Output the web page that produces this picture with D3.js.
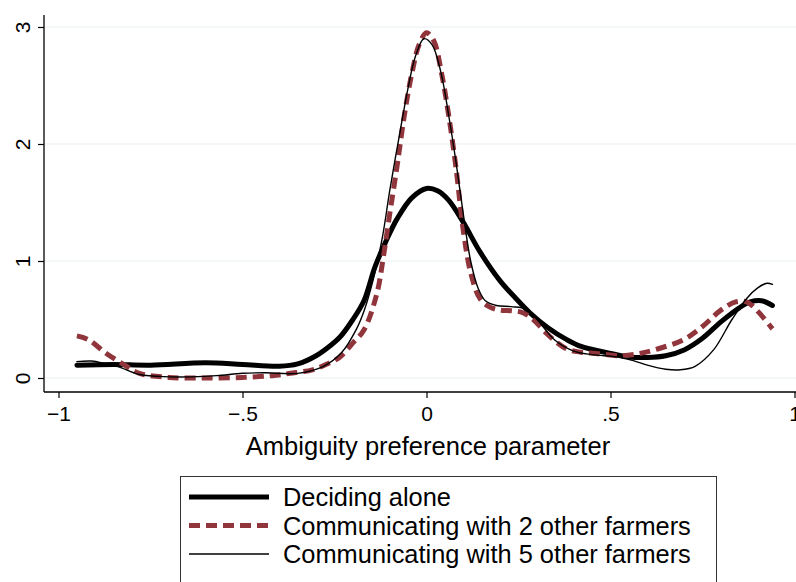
<!DOCTYPE html>
<html>
<head>
<meta charset="utf-8">
<script src="https://cdn.jsdelivr.net/npm/d3@7"></script>
<style>
  body { margin: 0; background: #fff; }
  text { font-family: "Liberation Sans", Arial, sans-serif; fill: #000; }
</style>
</head>
<body>
<div id="chart"></div>
<script>
// kernel density estimates, [x, density]
const aloneData = [[-0.95,0.11],[-0.85,0.115],[-0.75,0.11],[-0.6,0.13],[-0.5,0.115],[-0.4,0.1],[-0.35,0.12],
  [-0.3,0.19],[-0.26,0.28],[-0.235,0.35],[-0.2,0.5],[-0.17,0.66],[-0.14,0.95],[-0.11,1.17],[-0.08,1.36],
  [-0.04,1.54],[0.0,1.62],[0.03,1.6],[0.06,1.52],[0.1,1.33],[0.145,1.08],[0.2,0.83],[0.24,0.69],[0.28,0.56],
  [0.33,0.43],[0.38,0.33],[0.42,0.27],[0.5,0.21],[0.55,0.18],[0.6,0.175],[0.65,0.19],[0.7,0.24],[0.75,0.34],
  [0.8,0.48],[0.85,0.6],[0.88,0.65],[0.91,0.66],[0.94,0.62]];

const twoData = [[-0.95,0.36],[-0.92,0.33],[-0.87,0.21],[-0.82,0.11],[-0.78,0.04],[-0.7,0.005],[-0.6,0.0],
  [-0.5,0.005],[-0.42,0.02],[-0.37,0.04],[-0.31,0.07],[-0.27,0.12],[-0.235,0.18],[-0.2,0.3],[-0.17,0.41],
  [-0.135,0.72],[-0.117,1.04],[-0.1,1.4],[-0.08,1.81],[-0.06,2.25],[-0.04,2.6],[-0.02,2.85],[0.0,2.95],[0.02,2.88],
  [0.04,2.62],[0.06,2.25],[0.08,1.8],[0.1,1.26],[0.12,0.9],[0.145,0.68],[0.17,0.61],[0.2,0.58],[0.23,0.575],
  [0.26,0.56],[0.29,0.5],[0.33,0.37],[0.38,0.25],[0.42,0.22],[0.46,0.21],[0.53,0.19],[0.58,0.21],[0.63,0.25],
  [0.7,0.33],[0.75,0.44],[0.8,0.58],[0.84,0.65],[0.87,0.65],[0.9,0.57],[0.94,0.42]];

const fiveData = [[-0.95,0.14],[-0.91,0.145],[-0.87,0.12],[-0.84,0.1],[-0.78,0.03],[-0.7,0.01],[-0.64,0.01],
  [-0.57,0.02],[-0.5,0.04],[-0.44,0.045],[-0.35,0.04],[-0.28,0.10],[-0.23,0.22],[-0.19,0.42],[-0.17,0.57],
  [-0.145,0.84],[-0.12,1.2],[-0.1,1.6],[-0.075,2.05],[-0.05,2.48],[-0.03,2.75],[-0.007,2.9],[0.015,2.85],
  [0.04,2.6],[0.06,2.25],[0.08,1.85],[0.1,1.4],[0.12,1.0],[0.14,0.77],[0.16,0.66],[0.19,0.62],[0.23,0.61],
  [0.27,0.59],[0.3,0.5],[0.35,0.32],[0.4,0.23],[0.45,0.2],[0.52,0.18],[0.56,0.15],[0.6,0.11],[0.65,0.075],
  [0.69,0.07],[0.73,0.1],[0.78,0.24],[0.83,0.5],[0.87,0.68],[0.9,0.77],[0.925,0.81],[0.94,0.8]];

const xTicks = [-1, -0.5, 0, 0.5, 1];
const xTickLabels = ["\u22121", "\u2212.5", "0", ".5", "1"];
const yTicks = [0, 1, 2, 3];
const legendLabels = ["Deciding alone", "Communicating with 2 other farmers", "Communicating with 5 other farmers"];

const series = [
  {data: aloneData, color: "#000", width: 5, dash: null},
  {data: twoData, color: "#90353b", width: 5, dash: "11,6"},
  {data: fiveData, color: "#000", width: 1.4, dash: null}
];

const W = 796, H = 582;
const svg = d3.select("#chart").append("svg")
    .attr("width", W)
    .attr("height", H);

// plot region (Stata style: axes offset from data)
const plotLeft = 44, plotRight = 796, plotTop = 15, plotBottom = 392;

const xScale = d3.scaleLinear().domain([-1, 1]).range([58.5, 794.5]);
const yScale = d3.scaleLinear().domain([0, 3]).range([378, 27]);

// gridlines
svg.append("g")
    .selectAll("line")
    .data(yTicks)
    .join("line")
    .attr("x1", plotLeft + 1)
    .attr("x2", plotRight)
    .attr("y1", d => yScale(d))
    .attr("y2", d => yScale(d))
    .attr("stroke", "#e8f0f2")
    .attr("stroke-width", 1.2);

// y axis
const yAxisG = svg.append("g")
    .attr("transform", "translate(" + plotLeft + ",0)")
    .call(d3.axisLeft(yScale).tickValues(yTicks).tickSize(6).tickSizeOuter(0).tickFormat(d3.format("d")));
yAxisG.select(".domain").attr("d", "M0," + plotTop + "V" + plotBottom).attr("stroke-width", 1.3);
yAxisG.selectAll(".tick line").attr("stroke-width", 1.2);
yAxisG.selectAll(".tick text")
    .attr("x", null).attr("dy", null)
    .attr("transform", "translate(-22,0) rotate(-90)")
    .attr("text-anchor", "middle")
    .attr("dy", "0.36em")
    .style("font-size", "21px")
    .style("font-family", "'Liberation Sans', Arial, sans-serif");

// x axis
const xAxisG = svg.append("g")
    .attr("transform", "translate(0," + plotBottom + ")")
    .call(d3.axisBottom(xScale).tickValues(xTicks).tickSize(6).tickSizeOuter(0)
        .tickFormat((d, i) => xTickLabels[i]));
xAxisG.select(".domain").attr("d", "M" + plotLeft + ",0H" + plotRight).attr("stroke-width", 1.3);
xAxisG.selectAll(".tick line").attr("stroke-width", 1.2);
xAxisG.selectAll(".tick text")
    .attr("dy", null)
    .attr("y", 29)
    .style("font-size", "21px")
    .style("font-family", "'Liberation Sans', Arial, sans-serif");

svg.append("text")
    .attr("x", 428)
    .attr("y", 455)
    .attr("text-anchor", "middle")
    .style("font-size", "25.5px")
    .text("Ambiguity preference parameter");

// density curves
const line = d3.line()
    .x(d => xScale(d[0]))
    .y(d => yScale(d[1]))
    .curve(d3.curveCatmullRom.alpha(0.5));

svg.append("g")
    .selectAll("path")
    .data(series)
    .join("path")
    .attr("d", d => line(d.data))
    .attr("fill", "none")
    .attr("stroke", d => d.color)
    .attr("stroke-width", d => d.width)
    .attr("stroke-dasharray", d => d.dash)
    .attr("stroke-linejoin", "round")
    .attr("stroke-linecap", d => d.dash ? "butt" : "round");

// legend
const legendG = svg.append("g");
legendG.append("rect")
    .attr("x", 180.5)
    .attr("y", 476.5)
    .attr("width", 536)
    .attr("height", 120)
    .attr("fill", "#fff")
    .attr("stroke", "#333")
    .attr("stroke-width", 1);

const rowY = [497, 525.5, 554];
const items = legendG.selectAll(".legendItem")
    .data(series)
    .join("g")
    .attr("class", "legendItem")
    .attr("transform", (d, i) => "translate(0," + rowY[i] + ")");
items.append("line")
    .attr("x1", 189)
    .attr("x2", 269)
    .attr("y1", 0)
    .attr("y2", 0)
    .attr("stroke", d => d.color)
    .attr("stroke-width", d => d.width)
    .attr("stroke-dasharray", d => d.dash);
items.append("text")
    .attr("x", 283)
    .attr("y", 0)
    .attr("dy", "0.36em")
    .style("font-size", "25.4px")
    .text((d, i) => legendLabels[i]);
</script>
</body>
</html>
